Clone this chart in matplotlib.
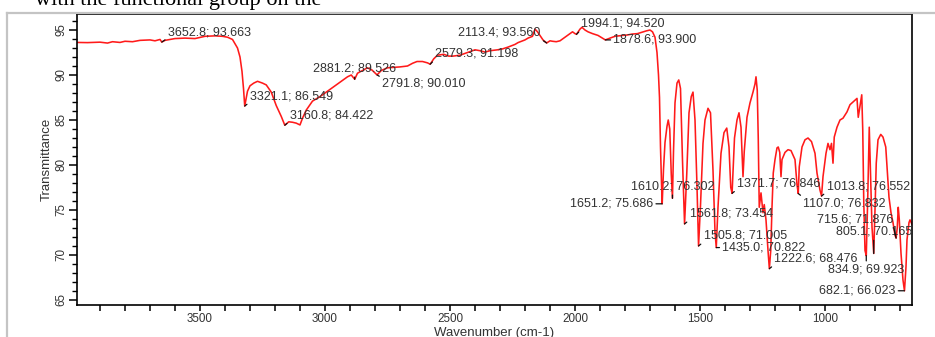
import matplotlib
matplotlib.use("Agg")
import matplotlib.pyplot as plt
from matplotlib.lines import Line2D
from matplotlib.ticker import MultipleLocator

plt.rcParams['font.family'] = ['Liberation Sans', 'DejaVu Sans']

# ---- spectrum ----
wavenumber = [
    3993, 3950, 3900, 3870, 3850, 3820, 3800, 3770, 3740, 3700, 3680, 3660, 3652.8, 3640,
    3600, 3560, 3520, 3480, 3440, 3410, 3390, 3370, 3350, 3340, 3332, 3326, 3321.1, 3310,
    3300, 3285, 3270, 3250, 3235, 3215, 3195, 3175, 3160.8, 3145, 3130, 3115, 3100, 3090,
    3075, 3050, 3020, 2990, 2960, 2940, 2910, 2895, 2881.2, 2870, 2850, 2830, 2812, 2791.8,
    2775, 2750, 2700, 2670, 2650, 2632, 2610, 2590, 2579.3, 2565, 2550, 2525, 2505, 2488,
    2460, 2430, 2400, 2380, 2360, 2340, 2310, 2290, 2268, 2240, 2228, 2200, 2188, 2170,
    2160, 2150, 2140, 2128, 2113.4, 2100, 2090, 2075, 2060, 2040, 2020, 2010, 2000, 1994.1,
    1980, 1972, 1960, 1948, 1930, 1908, 1890, 1878.6, 1860, 1840, 1810, 1790, 1772, 1750,
    1732, 1715, 1700, 1690, 1680, 1672, 1666, 1662, 1658, 1654, 1651.2, 1646, 1640, 1632,
    1627, 1621, 1615, 1610.2, 1606, 1600, 1592, 1585, 1578, 1570, 1561.8, 1553, 1544, 1535,
    1528, 1520, 1512, 1505.8, 1498, 1488, 1480, 1468, 1458, 1448, 1440, 1435.0, 1428, 1416,
    1404, 1393, 1384, 1377, 1371.7, 1362, 1352, 1344, 1336, 1328, 1323, 1312, 1300, 1288,
    1280, 1276, 1271, 1267, 1263, 1256, 1248, 1243, 1236, 1228, 1222.6, 1217, 1212, 1207,
    1200, 1192, 1187, 1181, 1176, 1172, 1160, 1148, 1136, 1128, 1120, 1112, 1107.0, 1103,
    1092, 1080, 1068, 1054, 1040, 1032, 1020, 1013.8, 1008, 996, 988, 980, 974, 968,
    963, 952, 940, 928, 912, 900, 880, 872, 867, 861, 853, 849, 845, 840,
    834.9, 829, 823, 819, 812, 805.1, 800, 795, 788, 777, 768, 757, 752, 744,
    736, 728, 720, 715.6, 711, 707, 703, 696, 688, 682.1, 676, 672, 664, 660, 652,
]
transmittance = [
    93.62, 93.60, 93.65, 93.55, 93.70, 93.62, 93.75, 93.70, 93.85, 93.90, 93.80, 93.95, 93.66, 93.85,
    94.05, 94.10, 94.05, 94.30, 94.35, 94.30, 94.20, 93.95, 93.00, 92.00, 90.40, 88.50, 86.55, 88.20,
    88.80, 89.10, 89.30, 89.10, 88.90, 88.10, 86.60, 85.40, 84.42, 84.80, 84.75, 84.65, 84.45, 85.20,
    86.10, 87.10, 87.60, 88.20, 88.80, 89.20, 89.80, 90.00, 89.53, 90.20, 90.50, 90.80, 90.55, 90.01,
    90.50, 90.80, 90.90, 91.00, 91.30, 91.50, 91.50, 91.35, 91.20, 91.80, 92.20, 92.30, 92.10, 92.10,
    92.20, 92.50, 92.80, 92.70, 92.55, 92.70, 92.80, 92.90, 93.10, 93.40, 93.60, 93.90, 94.10, 94.30,
    95.10, 94.80, 94.40, 93.90, 93.56, 93.80, 93.75, 93.70, 93.80, 94.20, 94.60, 94.80, 94.60, 94.52,
    95.10, 95.30, 95.00, 94.80, 94.60, 94.40, 94.10, 93.90, 94.10, 94.30, 94.40, 94.45, 94.55, 94.60,
    94.75, 94.90, 95.00, 94.80, 94.20, 92.50, 90.00, 87.50, 82.00, 78.00, 75.69, 79.50, 82.50, 84.30,
    85.00, 84.00, 79.00, 76.30, 81.50, 86.90, 89.10, 89.45, 88.50, 80.50, 73.45, 79.00, 85.80, 87.60,
    88.10, 85.00, 77.60, 71.00, 75.50, 82.40, 85.00, 86.30, 85.80, 79.40, 72.60, 70.82, 75.30, 81.30,
    83.60, 84.10, 82.00, 77.50, 76.85, 83.00, 85.00, 85.80, 84.20, 78.70, 81.50, 85.30, 86.90, 88.10,
    89.00, 89.80, 88.30, 83.00, 75.30, 76.90, 74.70, 75.60, 73.90, 70.50, 68.48, 70.50, 75.30, 79.10,
    80.60, 81.90, 82.00, 81.40, 78.70, 80.60, 81.40, 81.70, 81.60, 81.10, 80.60, 77.80, 76.83, 79.80,
    82.00, 82.80, 83.00, 82.60, 81.30, 79.10, 77.20, 76.55, 78.70, 81.30, 82.40, 81.70, 82.40, 80.20,
    83.10, 84.20, 85.00, 85.20, 85.90, 86.70, 87.20, 87.40, 85.30, 86.40, 87.80, 83.90, 76.00, 70.50,
    69.92, 76.40, 84.20, 80.20, 73.10, 70.17, 75.00, 80.20, 82.80, 83.40, 83.10, 82.00, 79.80, 76.40,
    74.70, 73.60, 72.20, 71.88, 73.00, 75.30, 74.00, 70.20, 67.20, 66.02, 68.70, 71.70, 73.60, 73.90, 73.40,
]

# ---- labelled peaks ----
peak_wn = [3652.8, 3321.1, 3160.8, 2881.2, 2791.8, 2579.3, 2113.4, 1994.1, 1878.6,
           1651.2, 1610.2, 1561.8, 1505.8, 1435.0, 1371.7, 1222.6, 1107.0, 1013.8,
           834.9, 805.1, 715.6, 682.1]
peak_T = [93.663, 86.549, 84.422, 89.526, 90.010, 91.198, 93.560, 94.520, 93.900,
          75.686, 76.302, 73.454, 71.005, 70.822, 76.846, 68.476, 76.832, 76.552,
          69.923, 70.165, 71.876, 66.023]

# label layout (offsets in pixels from the peak, horizontal alignment)
label_offsets = [(6, 10), (5, 10), (5, 10), (0, 11), (5, -9), (5, 11), (-6, 10), (5, 11), (8, 0),
                 (-9, 0), (0, 12), (5, 10), (5, 10), (6, 0), (5, 10), (5, 10), (5, -10), (5, 10),
                 (0, -14), (0, 22), (-3, 19), (-9, 0)]
label_ha = ['left', 'left', 'left', 'center', 'left', 'left', 'right', 'left', 'left',
            'right', 'center', 'left', 'left', 'left', 'left', 'left', 'left', 'left',
            'center', 'center', 'right', 'right']

x_limits = (3992, 652)
y_limits = (64.44, 96.78)

W, H = 935, 337
fig = plt.figure(figsize=(W / 100, H / 100), dpi=100)
ax = fig.add_axes([77 / W, 1 - 305 / H, (912 - 77) / W, (305 - 14) / H])

ax.plot(wavenumber, transmittance, color='#ff1a1a', lw=1.15)
ax.set_xlim(*x_limits)
ax.set_ylim(*y_limits)

text_col = '#333333'
for wn, t, (dx, dy), ha in zip(peak_wn, peak_T, label_offsets, label_ha):
    if dy > 0:
        ry = 0.0
    elif dy < 0:
        ry = 1.0
    else:
        ry = 0.5
    rx = {'left': 0.0, 'right': 1.0, 'center': 0.5}[ha]
    ax.annotate(f"{wn:.1f}; {t:.3f}", xy=(wn, t), xytext=(dx, dy),
                textcoords='offset pixels', ha=ha, va='center',
                fontsize=9.0, color=text_col,
                arrowprops=dict(arrowstyle='-', color='#111111', lw=0.9,
                                shrinkA=0, shrinkB=0, relpos=(rx, ry)))

# axes styling
for s in ax.spines.values():
    s.set_linewidth(1.2)
    s.set_color('black')
ax.xaxis.set_major_locator(MultipleLocator(500))
ax.xaxis.set_minor_locator(MultipleLocator(100))
ax.yaxis.set_major_locator(MultipleLocator(5))
ax.yaxis.set_minor_locator(MultipleLocator(1))
ax.tick_params(axis='x', which='both', direction='out', length=4, width=1.1,
               labelsize=8.4, labelcolor=text_col, pad=2)
ax.tick_params(axis='y', which='major', direction='out', length=5.5, width=1.1,
               labelsize=8.4, labelcolor=text_col, pad=1.5, labelrotation=90)
ax.tick_params(axis='y', which='minor', direction='out', length=3.5, width=1.0)
for lab in ax.get_yticklabels():
    lab.set_va('center')

ax.set_xlabel('Wavenumber (cm-1)', fontsize=9.5, color=text_col, labelpad=1)
ax.set_ylabel('Transmittance', fontsize=9.5, color=text_col, labelpad=2)

# surrounding page frame and text fragment
fig.add_artist(Line2D([7 / W, 1.0], [1 - 13 / H, 1 - 13 / H], transform=fig.transFigure,
                      color='#c4c4c4', lw=1.6))
fig.add_artist(Line2D([7 / W, 7 / W], [0, 1 - 13 / H], transform=fig.transFigure,
                      color='#c4c4c4', lw=1.6))
fig.text(35 / W, 1 - 5.5 / H, 'with the functional group on the', fontsize=16,
         family=['Liberation Serif', 'DejaVu Serif'], va='baseline', ha='left', color='black')

fig.savefig('out.png', dpi=100)
